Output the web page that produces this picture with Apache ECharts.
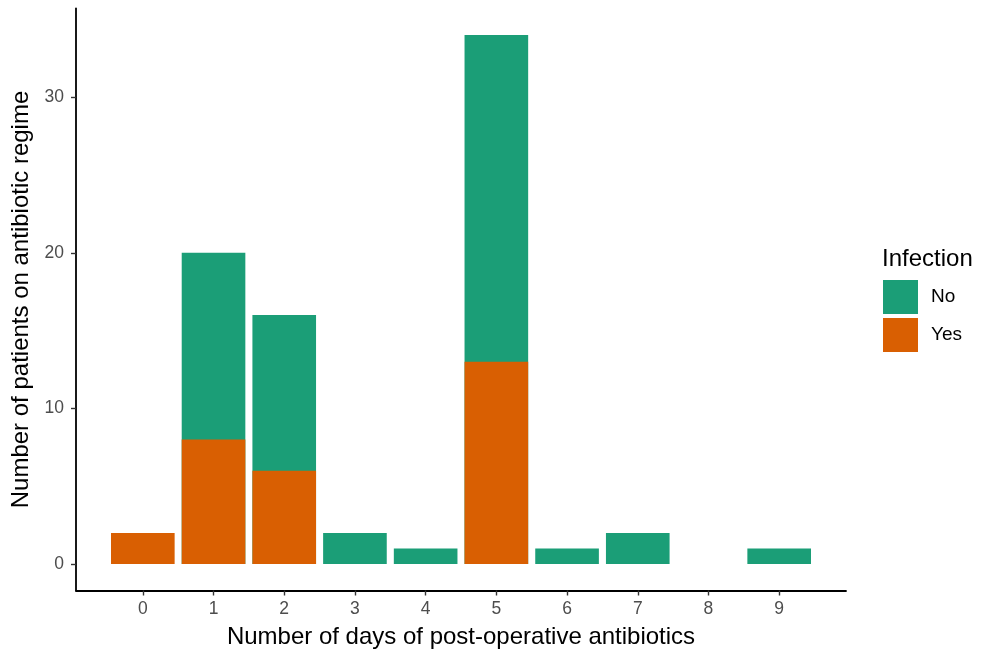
<!DOCTYPE html>
<html><head><meta charset="utf-8">
<script src="https://cdn.jsdelivr.net/npm/echarts@6/dist/echarts.min.js"></script>
<style>html,body{margin:0;padding:0;background:#fff}#c{width:988px;height:650px}</style>
</head><body><div id="c"></div>
<script>
const days = [0,1,2,3,4,5,6,7,8,9];
const yesCounts = [2,8,6,0,0,13,0,0,0,0];
const noCounts  = [0,12,10,2,1,21,1,2,0,1];
const yTicks = [0,10,20,30];
const seriesNames = ['No','Yes'];
const colors = {No:'#1B9E77', Yes:'#D95F02'};

// "No" sits on top of "Yes": its bar spans from 0 up to the running total,
// and the "Yes" bar is drawn over its lower part.
const yesPairs = days.map((d,i)=>[d, yesCounts[i] ? yesCounts[i] : '-']);
const noPairs  = days.map((d,i)=>[d, noCounts[i] ? yesCounts[i] + noCounts[i] : '-']);

const chart = echarts.init(document.getElementById('c'));
const font = 'Liberation Sans, Arial, sans-serif';
const gridL = 76, gridR = 142;
const xMin = -0.945, xMax = 9.945;
const barW = (988 - gridL - gridR) / (xMax - xMin) * 0.9;

chart.setOption({
  animation:false,
  backgroundColor:'#fff',
  grid:{left:gridL, right:gridR, top:8.5, bottom:59.5, containLabel:false, outerBoundsMode:'none'},
  xAxis:{type:'value', min:xMin, max:xMax,
    name:'Number of days of post-operative antibiotics', nameLocation:'middle', nameGap:35,
    nameTextStyle:{fontFamily:font, fontSize:24, color:'#000'},
    axisLine:{onZero:false, lineStyle:{color:'#000', width:1.8}},
    axisTick:{show:true, length:5, lineStyle:{color:'#333', width:1.4}, customValues:days},
    axisLabel:{customValues:days, fontFamily:font, fontSize:17.5, color:'#4D4D4D', margin:10},
    splitLine:{show:false}},
  yAxis:{type:'value', min:-1.7, max:35.7,
    name:'Number of patients on antibiotic regime', nameLocation:'middle', nameGap:41,
    nameTextStyle:{fontFamily:font, fontSize:24, color:'#000'},
    axisLine:{show:true, onZero:false, lineStyle:{color:'#000', width:1.8}},
    axisTick:{show:true, length:5, lineStyle:{color:'#333', width:1.4}, customValues:yTicks},
    axisLabel:{customValues:yTicks, fontFamily:font, fontSize:17.5, color:'#4D4D4D', margin:12},
    splitLine:{show:false}},
  legend:{orient:'vertical', left:883, top:280, padding:0, itemWidth:35, itemHeight:34, itemGap:4,
    icon:'rect', data:seriesNames,
    textStyle:{fontFamily:font, fontSize:19, color:'#000', padding:[2,0,0,8]}},
  graphic:[{type:'text', left:882, top:247,
    style:{text:'Infection', font:'24px '+font, fill:'#000'}}],
  series:[
    {name:'No', type:'bar', barWidth:barW, barGap:'-100%', z:2, data:noPairs,
     itemStyle:{color:colors.No}},
    {name:'Yes', type:'bar', barWidth:barW, barGap:'-100%', z:3, data:yesPairs,
     itemStyle:{color:colors.Yes}}
  ]
});
</script></body></html>
